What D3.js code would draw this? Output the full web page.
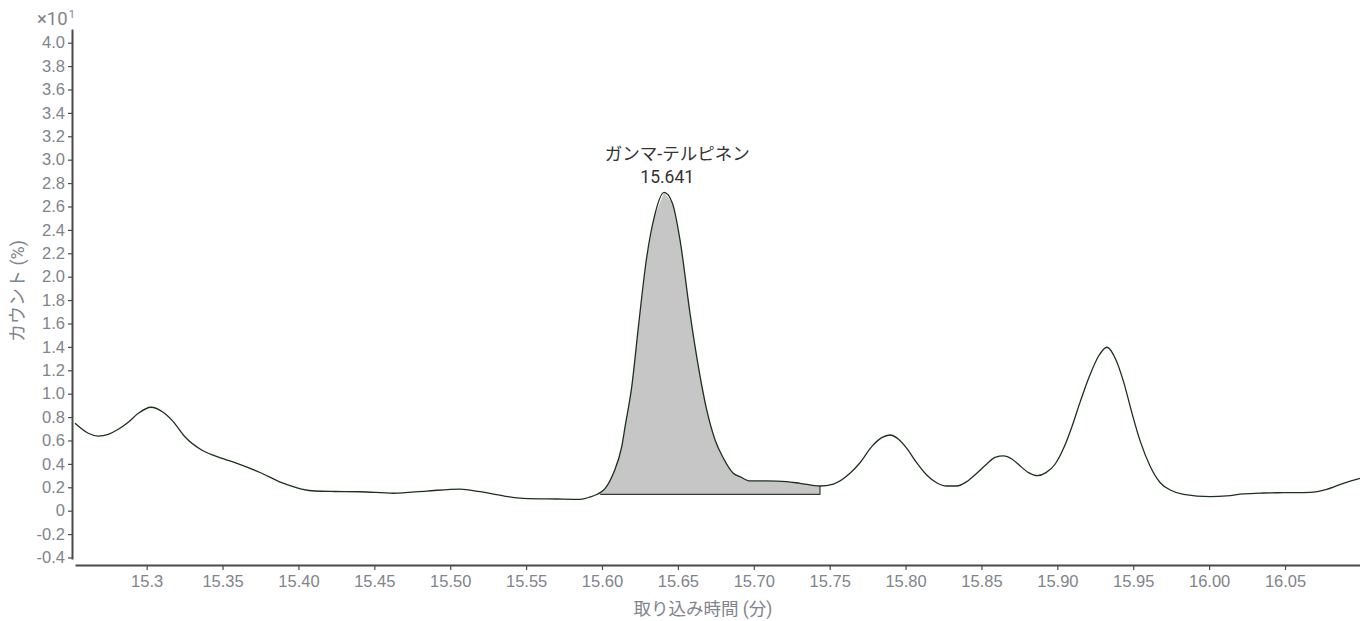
<!DOCTYPE html>
<html>
<head>
<meta charset="utf-8">
<script src="https://cdn.jsdelivr.net/npm/d3@7"></script>
<style>
  html, body { margin: 0; padding: 0; background: #fff; }
  svg { display: block; font-family: Roboto, "Noto Sans CJK JP", sans-serif; }
</style>
</head>
<body>
<svg id="chart" width="1360" height="621"></svg>
<script>
// Acquisition time (min) and counts (×10¹ %) of the chromatogram trace
const times = [
  15.2528, 15.2615, 15.2681, 15.2747, 15.2813, 15.2879, 15.2945, 15.3028, 15.3109, 15.3175,
  15.3252, 15.3362, 15.3450, 15.3582, 15.3758, 15.3890, 15.4021, 15.4109, 15.4241, 15.4406,
  15.4625, 15.4845, 15.5065, 15.5196, 15.5350, 15.5482, 15.5702, 15.5856, 15.5922, 15.5966,
  15.5988, 15.6021, 15.6075, 15.6130, 15.6152, 15.6196, 15.6240, 15.6289, 15.6345, 15.6409,
  15.6464, 15.6514, 15.6580, 15.6624, 15.6690, 15.6745, 15.6800, 15.6865, 15.6909, 15.6975,
  15.7085, 15.7217, 15.7305, 15.7436, 15.7524, 15.7634, 15.7700, 15.7777, 15.7843, 15.7898,
  15.7952, 15.8008, 15.8073, 15.8139, 15.8205, 15.8271, 15.8337, 15.8403, 15.8469, 15.8535,
  15.8590, 15.8645, 15.8700, 15.8755, 15.8810, 15.8869, 15.8925, 15.8986, 15.9041, 15.9096,
  15.9151, 15.9212, 15.9272, 15.9327, 15.9385, 15.9436, 15.9492, 15.9547, 15.9613, 15.9678,
  15.9744, 15.9832, 16.0008, 16.0117, 16.0226, 16.0357, 16.0489, 16.0665, 16.0775, 16.0884,
  16.0994
];
const counts = [
  0.747, 0.662, 0.638, 0.653, 0.696, 0.756, 0.832, 0.884, 0.841, 0.761,
  0.632, 0.519, 0.468, 0.410, 0.320, 0.239, 0.185, 0.168, 0.164, 0.162,
  0.149, 0.168, 0.185, 0.162, 0.126, 0.106, 0.100, 0.097, 0.117, 0.138,
  0.154, 0.191, 0.320, 0.547, 0.718, 1.060, 1.573, 2.115, 2.513, 2.720,
  2.627, 2.314, 1.687, 1.316, 0.861, 0.604, 0.448, 0.320, 0.291, 0.254,
  0.254, 0.248, 0.234, 0.211, 0.228, 0.320, 0.410, 0.547, 0.624, 0.647,
  0.613, 0.533, 0.410, 0.305, 0.239, 0.211, 0.211, 0.248, 0.320, 0.399,
  0.456, 0.468, 0.442, 0.382, 0.325, 0.299, 0.325, 0.399, 0.533, 0.718,
  0.932, 1.151, 1.322, 1.397, 1.292, 1.103, 0.832, 0.590, 0.376, 0.239,
  0.177, 0.140, 0.120, 0.126, 0.143, 0.151, 0.154, 0.157, 0.183, 0.234,
  0.277
];

// Integrated peak: start/end time and baseline level
const peakName = ["ガンマ-テルピネン"];
const peakRT = [15.641];
const peakBounds = [15.5988, 15.7436];
const peakBaseline = [0.14, 0.14];

// Axis ticks and labels
const xTicks = [15.30, 15.35, 15.40, 15.45, 15.50, 15.55, 15.60, 15.65, 15.70, 15.75, 15.80, 15.85, 15.90, 15.95, 16.00, 16.05];
const xTickLabels = ["15.3", "15.35", "15.40", "15.45", "15.50", "15.55", "15.60", "15.65", "15.70", "15.75", "15.80", "15.85", "15.90", "15.95", "16.00", "16.05"];
const yTicks = [-0.4, -0.2, 0, 0.2, 0.4, 0.6, 0.8, 1.0, 1.2, 1.4, 1.6, 1.8, 2.0, 2.2, 2.4, 2.6, 2.8, 3.0, 3.2, 3.4, 3.6, 3.8, 4.0];
const yTickLabels = ["-0.4", "-0.2", "0", "0.2", "0.4", "0.6", "0.8", "1.0", "1.2", "1.4", "1.6", "1.8", "2.0", "2.2", "2.4", "2.6", "2.8", "3.0", "3.2", "3.4", "3.6", "3.8", "4.0"];
const xTitle = "取り込み時間 (分)";
const yTitle = "カウント (%)";

const data = times.map((t, i) => ({ t, v: counts[i] }));

const svg = d3.select("#chart");
const x = d3.scaleLinear().domain([15.2528, 16.0994]).range([75, 1360]);
const y = d3.scaleLinear().domain([-0.413, 4.117]).range([559, 29]);

const tickColor = "#80848b";
const axisColor = "#4a4a4a";

// Peak area fill: trace between the integration bounds, closed along the baseline
const peakPts = data.filter(d => d.t >= peakBounds[0] - 1e-9 && d.t <= peakBounds[1] + 1e-9);
const areaPts = [
  { t: peakBounds[0], v: peakBaseline[0] },
  ...peakPts,
  { t: peakBounds[1], v: peakBaseline[1] }
];
svg.append("path")
  .attr("d", d3.line().x(d => x(d.t)).y(d => y(d.v)).curve(d3.curveLinear)(areaPts) + "Z")
  .attr("fill", "#c6c6c6")
  .attr("stroke", "none");

// Baseline and right-hand drop line of the integrated region
svg.append("path")
  .attr("d", d3.line().x(d => x(d.t)).y(d => y(d.v))([
    { t: peakBounds[0], v: peakBaseline[0] },
    { t: peakBounds[1], v: peakBaseline[1] },
    peakPts[peakPts.length - 1]
  ]))
  .attr("fill", "none")
  .attr("stroke", "#3a3a3a")
  .attr("stroke-width", 1.2);

// Chromatogram trace
svg.append("path")
  .datum(data)
  .attr("d", d3.line().x(d => x(d.t)).y(d => y(d.v)).curve(d3.curveMonotoneX))
  .attr("fill", "none")
  .attr("stroke", "#1d301d")
  .attr("stroke-width", 1.3);

// Y axis
const yAxis = svg.append("g")
  .attr("transform", "translate(72,0)")
  .call(d3.axisLeft(y).tickValues(yTicks).tickSize(4).tickSizeOuter(0)
    .tickFormat((d, i) => yTickLabels[i]));
yAxis.select(".domain").attr("stroke", axisColor).attr("stroke-width", 2);
yAxis.selectAll(".tick line").attr("stroke", axisColor).attr("stroke-width", 1.2);
yAxis.selectAll(".tick text").attr("fill", tickColor).attr("font-size", 16.5).attr("x", -7);

// X axis
const xAxis = svg.append("g")
  .attr("transform", "translate(0,565)")
  .call(d3.axisBottom(x).tickValues(xTicks).tickSize(5).tickSizeOuter(0)
    .tickFormat((d, i) => xTickLabels[i]));
xAxis.select(".domain").attr("stroke", axisColor).attr("stroke-width", 2);
xAxis.selectAll(".tick line").attr("stroke", axisColor).attr("stroke-width", 1.2);
xAxis.selectAll(".tick text").attr("fill", tickColor).attr("font-size", 16.5).attr("y", 10);

// Axis multiplier
const mult = svg.append("text")
  .attr("x", 37).attr("y", 25)
  .attr("fill", tickColor).attr("font-size", 18.5);
mult.append("tspan").text("×10");
mult.append("tspan").attr("font-size", 11).attr("dx", 1).attr("dy", -7).text("1");

// Axis titles
svg.append("text")
  .attr("x", 703).attr("y", 615)
  .attr("text-anchor", "middle")
  .attr("fill", tickColor).attr("font-size", 17.5)
  .text(xTitle);
svg.append("text")
  .attr("transform", "translate(24,291) rotate(-90)")
  .attr("text-anchor", "middle")
  .attr("fill", tickColor).attr("font-size", 18)
  .text(yTitle);

// Peak annotation
const px = x(peakRT[0]);
svg.append("text")
  .attr("x", px + 13).attr("y", 160)
  .attr("text-anchor", "middle")
  .attr("fill", "#333").attr("font-size", 17.5)
  .text(peakName[0]);
svg.append("text")
  .attr("x", px + 3).attr("y", 183)
  .attr("text-anchor", "middle")
  .attr("fill", "#333").attr("font-size", 17.5)
  .text(peakRT[0].toFixed(3));
</script>
</body>
</html>
